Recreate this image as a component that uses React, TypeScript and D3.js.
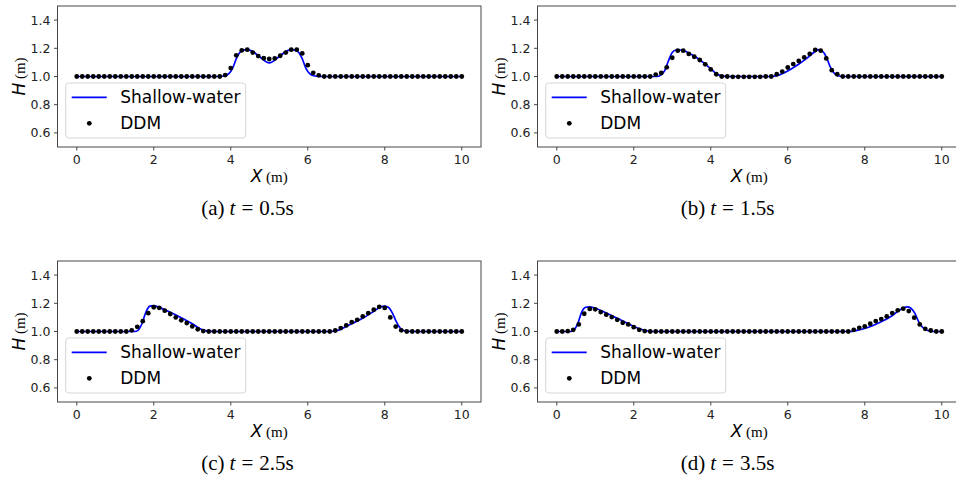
import React from "react";
import * as d3 from "d3";

const X_TICKS = [0, 2, 4, 6, 8, 10];
const Y_TICKS = [0.6, 0.8, 1.0, 1.2, 1.4];
const X_DOMAIN = [-0.5, 10.5];
const Y_DOMAIN = [0.5, 1.5];

// DDM samples sit on 71 evenly spaced stations between 0 and 10 m
const ddmX = d3.range(71).map((i) => (i * 10) / 70);

// DDM water height H (m) at each station
const ddmA = [
  1, 1, 1, 1, 1, 1, 1, 1, 1, 1, 1, 1, 1, 1, 1, 1, 1, 1, 1, 1, 1, 1, 1, 1, 1, 1, 1,
  1.01, 1.06, 1.15, 1.185, 1.19, 1.17, 1.145, 1.13, 1.124, 1.128, 1.147, 1.17, 1.19, 1.19, 1.164, 1.08, 1.026, 1.008,
  1, 1, 1, 1, 1, 1, 1, 1, 1, 1, 1, 1, 1, 1, 1, 1, 1, 1, 1, 1, 1, 1, 1, 1, 1, 1,
];
const ddmB = [
  1, 1, 1, 1, 1, 1, 1, 1, 1, 1, 1, 1, 1, 1, 1, 1, 1, 1,
  1.014, 1.025, 1.065, 1.133, 1.183, 1.183, 1.16, 1.14, 1.117, 1.086, 1.05, 1.016,
  1, 1, 0.998, 0.998, 0.998, 0.998, 0.998, 0.998, 1, 1,
  1.016, 1.035, 1.064, 1.088, 1.11, 1.135, 1.16, 1.188, 1.183, 1.128, 1.045, 1.016,
  1, 1, 1, 1, 1, 1, 1, 1, 1, 1, 1, 1, 1, 1, 1, 1, 1, 1, 1,
];
const ddmC = [
  1, 1, 1, 1, 1, 1, 1, 1, 1, 1,
  1.008, 1.033, 1.073, 1.13, 1.172, 1.168, 1.148, 1.124, 1.1, 1.079, 1.06, 1.036, 1.016, 1.003,
  1, 1, 1, 1, 1, 1, 1, 1, 1, 1, 1, 1, 1, 1, 1, 1, 1, 1, 1, 1, 1, 1, 1,
  1.007, 1.024, 1.043, 1.066, 1.083, 1.107, 1.13, 1.155, 1.175, 1.167, 1.1, 1.035, 1.008,
  1, 1, 1, 1, 1, 1, 1, 1, 1, 1, 1,
];
const ddmD = [
  1, 1, 1.002,
  1.012, 1.05, 1.126, 1.16, 1.157, 1.138, 1.119, 1.102, 1.083, 1.062, 1.05, 1.031, 1.012, 1.003,
  1, 1, 1, 1, 1, 1, 1, 1, 1, 1, 1, 1, 1, 1, 1, 1, 1, 1, 1, 1, 1, 1, 1, 1, 1, 1, 1, 1, 1, 1, 1, 1, 1, 1, 1, 1, 1,
  1.012, 1.026, 1.036, 1.055, 1.074, 1.088, 1.107, 1.131, 1.15, 1.162, 1.145, 1.098, 1.05, 1.019, 1.007,
  1, 1,
];

// shallow-water solution, [x, H] pairs
const swA = [
  [0, 1], [3.7, 1], [3.85, 1.005], [3.95, 1.02], [4.05, 1.06], [4.15, 1.13], [4.25, 1.175],
  [4.4, 1.19], [4.55, 1.18], [4.75, 1.14], [5.0, 1.097], [5.25, 1.14], [5.45, 1.18], [5.6, 1.19],
  [5.75, 1.175], [5.85, 1.13], [5.95, 1.06], [6.05, 1.02], [6.15, 1.005], [6.3, 1], [10, 1],
];
const swB = [
  [0, 1], [2.6, 1], [2.7, 1.01], [2.8, 1.04], [2.9, 1.11], [3.0, 1.17], [3.1, 1.188], [3.25, 1.188],
  [3.4, 1.17], [3.6, 1.14], [3.8, 1.1], [4.0, 1.055], [4.15, 1.02], [4.3, 1.003], [4.5, 1],
  [5.5, 1], [5.7, 1.005], [5.9, 1.025], [6.1, 1.055], [6.3, 1.09], [6.5, 1.13], [6.7, 1.175],
  [6.8, 1.19], [6.9, 1.18], [7.0, 1.14], [7.1, 1.07], [7.2, 1.025], [7.3, 1.005], [7.45, 1], [10, 1],
];
const swC = [
  [0, 1], [1.5, 1], [1.6, 1.01], [1.7, 1.06], [1.8, 1.14], [1.9, 1.18], [2.0, 1.183], [2.1, 1.175],
  [2.4, 1.14], [2.7, 1.1], [3.0, 1.055], [3.2, 1.02], [3.4, 1.003], [3.6, 1],
  [6.6, 1], [6.8, 1.01], [7.1, 1.05], [7.4, 1.09], [7.7, 1.14], [7.9, 1.175], [8.0, 1.18],
  [8.1, 1.17], [8.2, 1.13], [8.3, 1.07], [8.4, 1.025], [8.55, 1.003], [8.7, 1], [10, 1],
];
const swD = [
  [0, 1], [0.35, 1], [0.45, 1.01], [0.55, 1.06], [0.65, 1.14], [0.75, 1.172], [0.85, 1.175],
  [1.0, 1.165], [1.3, 1.13], [1.6, 1.09], [1.9, 1.05], [2.1, 1.025], [2.3, 1.007], [2.5, 1],
  [7.6, 1], [7.8, 1.008], [8.1, 1.03], [8.4, 1.065], [8.7, 1.11], [8.95, 1.16], [9.1, 1.174],
  [9.2, 1.165], [9.3, 1.13], [9.4, 1.07], [9.5, 1.03], [9.6, 1.01], [9.75, 1], [10, 1],
];

const tags = ["(a)", "(b)", "(c)", "(d)"];
const times = ["0.5s", "1.5s", "2.5s", "3.5s"];

const W = 423.5;
const H = 141;
const SANS = "DejaVu Sans, sans-serif";
const SERIF = "Liberation Serif, DejaVu Serif, serif";

function Panel({ left, top, ddm, sw, tag, time }) {
  const x = d3.scaleLinear().domain(X_DOMAIN).range([0, W]);
  const y = d3.scaleLinear().domain(Y_DOMAIN).range([H, 0]);
  const line = d3
    .line()
    .x((d) => x(d[0]))
    .y((d) => y(d[1]))
    .curve(d3.curveMonotoneX);

  return (
    <g transform={`translate(${left},${top})`}>
      <path d={line(sw)} fill="none" stroke="#0000ff" strokeWidth={1.7} />
      {ddm.map((v, i) => (
        <circle key={i} cx={x(ddmX[i])} cy={y(v)} r={2.4} fill="#000" />
      ))}
      <rect x={0} y={0} width={W} height={H} fill="none" stroke="#333" strokeWidth={0.9} />

      {X_TICKS.map((t) => (
        <g key={t} transform={`translate(${x(t)},${H})`}>
          <line y2={3.5} stroke="#333" strokeWidth={0.9} />
          <text y={16.5} textAnchor="middle" fontFamily={SANS} fontSize={12.5} fill="#222">
            {t}
          </text>
        </g>
      ))}
      {Y_TICKS.map((t) => (
        <g key={t} transform={`translate(0,${y(t)})`}>
          <line x2={-3.5} stroke="#333" strokeWidth={0.9} />
          <text x={-7} dy="0.36em" textAnchor="end" fontFamily={SANS} fontSize={12.5} fill="#222">
            {t.toFixed(1)}
          </text>
        </g>
      ))}

      <text x={W / 2} y={H + 35} textAnchor="middle" fill="#000">
        <tspan fontFamily={SANS} fontStyle="italic" fontSize={17}>X</tspan>
        <tspan fontFamily={SERIF} fontSize={15}> (m)</tspan>
      </text>
      <text transform={`translate(-33,${H / 2}) rotate(-90)`} textAnchor="middle" fill="#000">
        <tspan fontFamily={SANS} fontStyle="italic" fontSize={17}>H</tspan>
        <tspan fontFamily={SERIF} fontSize={15}> (m)</tspan>
      </text>

      <g transform="translate(8.2,77)">
        <rect width={180} height={55} rx={3} fill="#fff" fillOpacity={0.8} stroke="#d6d6d6" />
        <line x1={6} x2={41} y1={14.3} y2={14.3} stroke="#0000ff" strokeWidth={1.7} />
        <text x={54.5} y={20.3} fontFamily={SANS} fontSize={17} fill="#000">Shallow-water</text>
        <circle cx={23.6} cy={40.3} r={2.4} fill="#000" />
        <text x={54.5} y={46.3} fontFamily={SANS} fontSize={17} fill="#000">DDM</text>
      </g>

      <text x={190} y={H + 68} textAnchor="middle" fontFamily={SERIF} fontSize={21} fill="#000">
        {tag}
        <tspan dx={5} fontStyle="italic">t</tspan>
        <tspan dx={6}>=</tspan>
        <tspan dx={6}>{time}</tspan>
      </text>
    </g>
  );
}

export default function App() {
  const panels = [
    { left: 57.5, top: 6, ddm: ddmA, sw: swA },
    { left: 537.5, top: 6, ddm: ddmB, sw: swB },
    { left: 57.5, top: 261, ddm: ddmC, sw: swC },
    { left: 537.5, top: 261, ddm: ddmD, sw: swD },
  ];
  return (
    <svg
      width={956}
      height={485}
      style={{ position: "absolute", left: 0, top: 0, background: "#fff" }}
    >
      {panels.map((p, i) => (
        <Panel key={i} {...p} tag={tags[i]} time={times[i]} />
      ))}
    </svg>
  );
}
